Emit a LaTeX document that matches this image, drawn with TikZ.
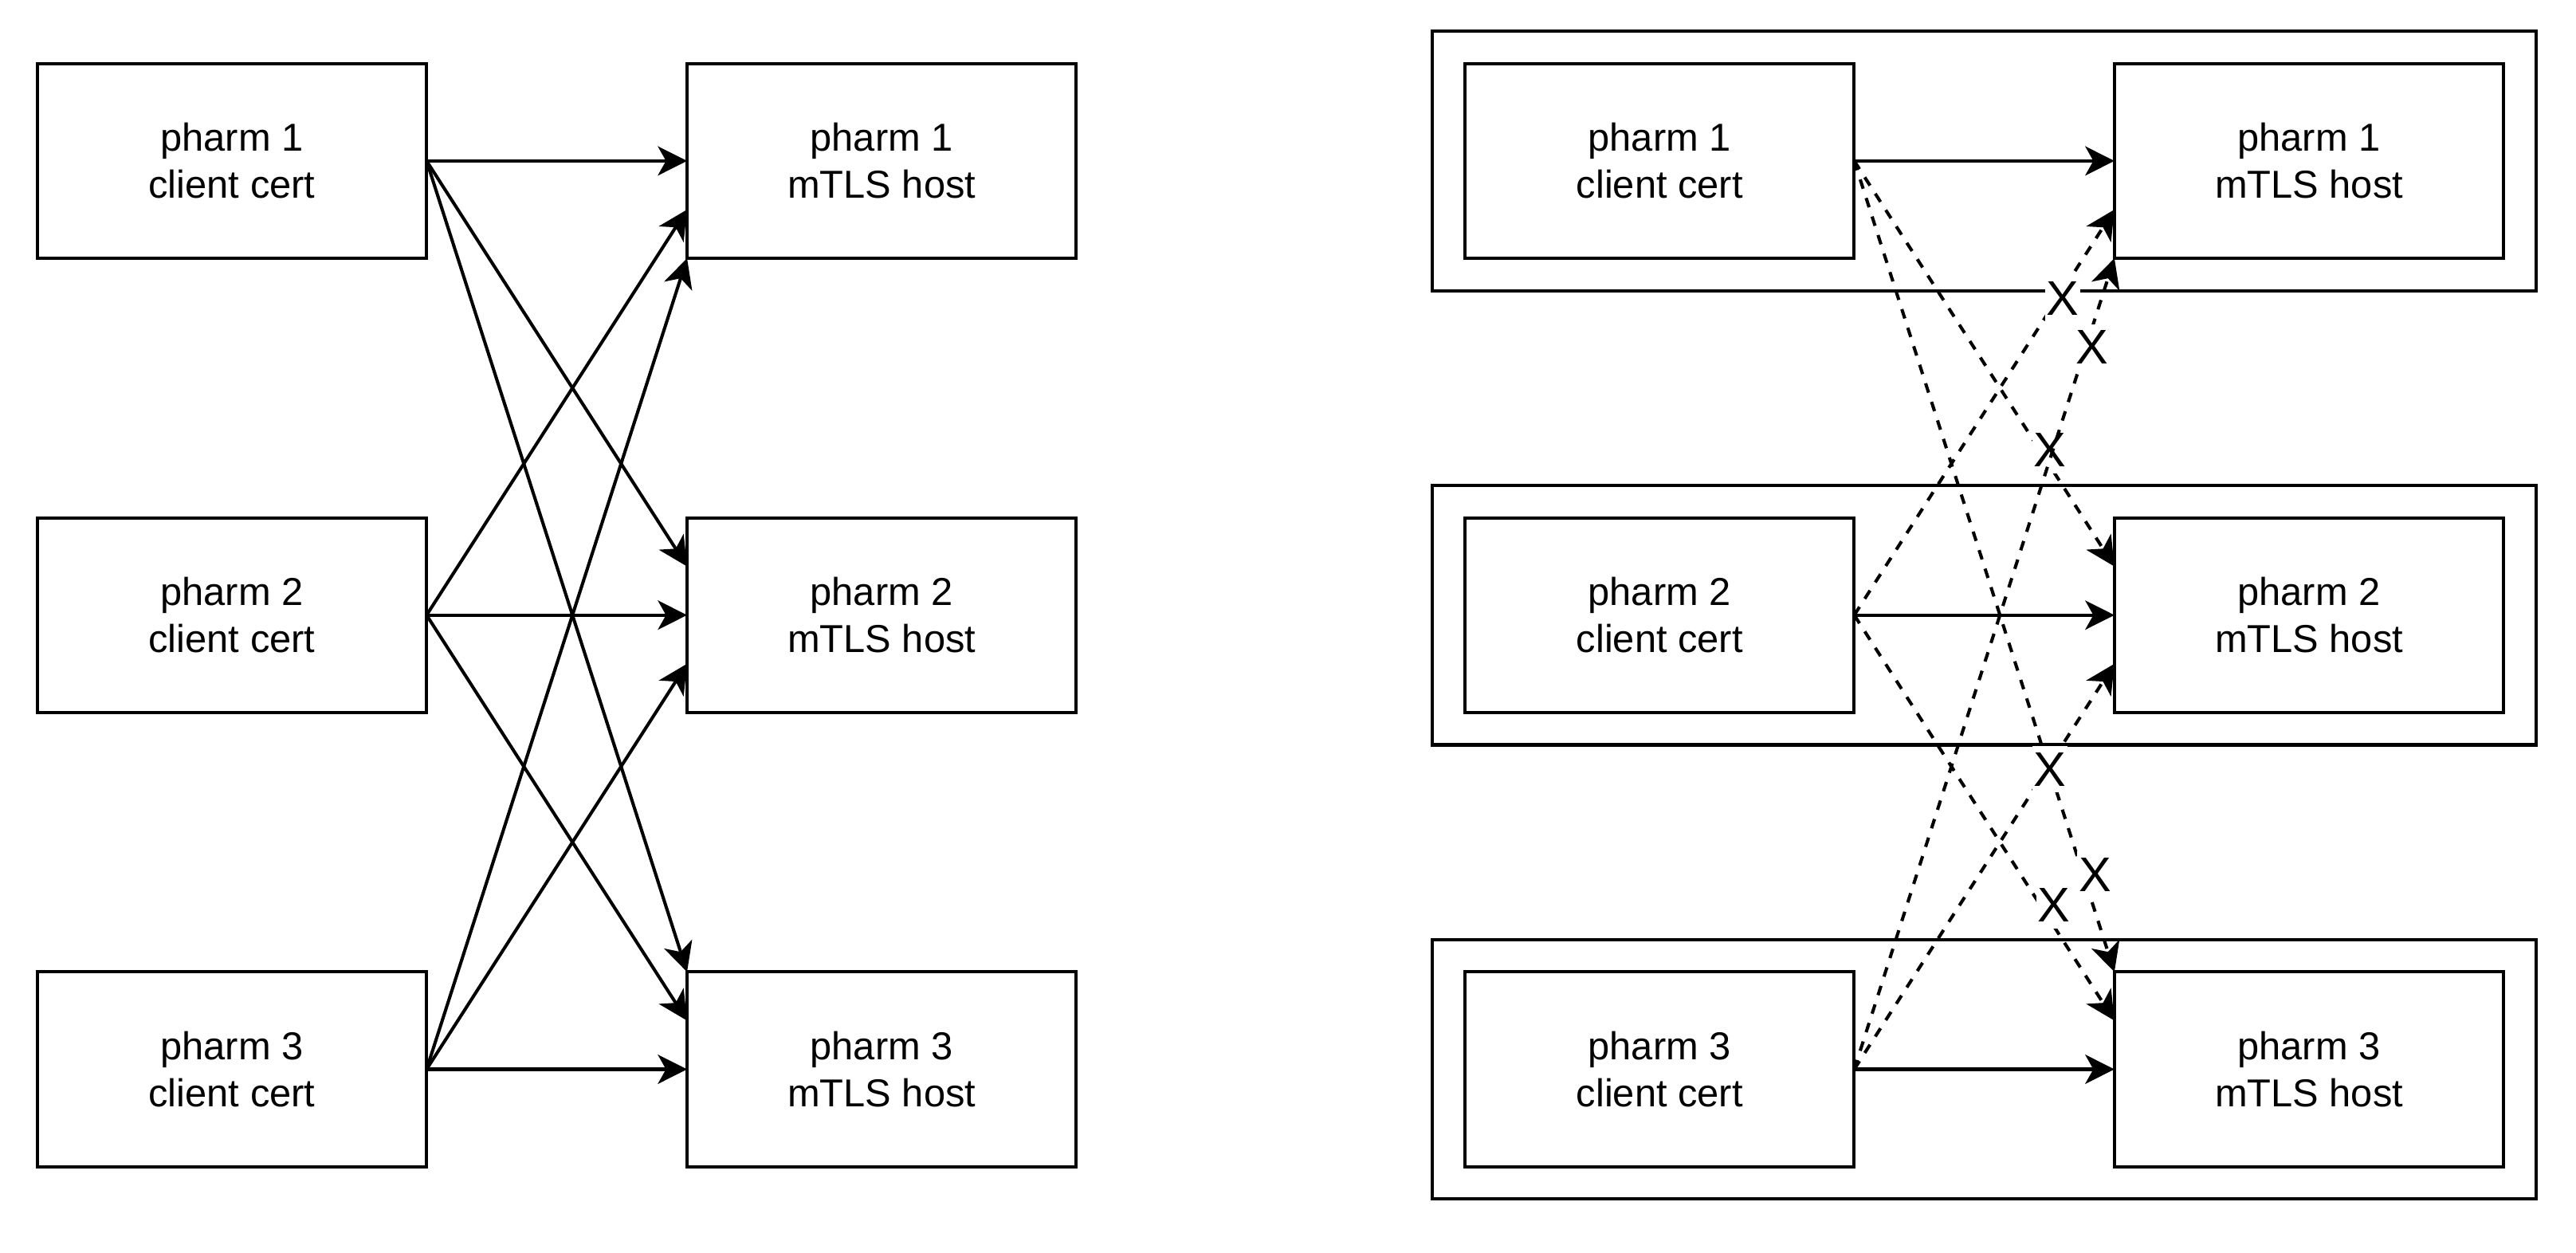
\documentclass[tikz,border=0pt]{standalone}
\usepackage{fontspec}
\setmainfont{Liberation Sans}
\usetikzlibrary{arrows.meta,positioning,fit}
\tikzset{
  pharmbox/.style={draw,line width=1pt,outer sep=0pt,minimum width=120pt,minimum height=60pt,
    align=center,inner sep=2pt,font=\fontsize{12}{14.5}\selectfont},
  zonebox/.style={draw,line width=1pt,outer sep=0pt,inner sep=10pt},
  certlink/.style={-{Stealth[length=9pt,width=9pt,inset=2.5pt]},line width=1pt},
  blockedlink/.style={certlink,dash pattern=on 3pt off 3pt},
  xmark/.style={fill=white,inner xsep=0.5pt,inner ysep=2pt,font=\fontsize{15}{18}\selectfont}
}

\begin{document}
\begin{tikzpicture}[x=1pt,y=-1pt]
  \useasboundingbox (0,0) rectangle (794.1,386.2);
  % open setup: every cert reaches every host
  \node[pharmbox] (cert1) at (71.5,49.6) {pharm 1\\client cert};
  \node[pharmbox] (cert2) at (71.5,189.6) {pharm 2\\client cert};
  \node[pharmbox] (cert3) at (71.5,329.6) {pharm 3\\client cert};
  \node[pharmbox] (host1) at (271.8,49.6) {pharm 1\\mTLS host};
  \node[pharmbox] (host2) at (271.8,189.6) {pharm 2\\mTLS host};
  \node[pharmbox] (host3) at (271.8,329.6) {pharm 3\\mTLS host};
  \draw[certlink] (cert1.east) -- (host1.west);
  \draw[certlink] (cert1.east) -- ([yshift=15pt]host2.west);
  \draw[certlink] (cert1.east) -- (host3.north west);
  \draw[certlink] (cert2.east) -- ([yshift=-15pt]host1.west);
  \draw[certlink] (cert2.east) -- (host2.west);
  \draw[certlink] (cert2.east) -- ([yshift=15pt]host3.west);
  \draw[certlink] (cert3.east) -- (host1.south west);
  \draw[certlink] (cert3.east) -- ([yshift=-15pt]host2.west);
  \draw[certlink] (cert3.east) -- (host3.west);
  % isolated setup: one zone per pharmacy
  \node[pharmbox] (pcert1) at (511.6,49.6) {pharm 1\\client cert};
  \node[pharmbox] (pcert2) at (511.6,189.6) {pharm 2\\client cert};
  \node[pharmbox] (pcert3) at (511.6,329.6) {pharm 3\\client cert};
  \node[pharmbox] (phost1) at (711.8,49.6) {pharm 1\\mTLS host};
  \node[pharmbox] (phost2) at (711.8,189.6) {pharm 2\\mTLS host};
  \node[pharmbox] (phost3) at (711.8,329.6) {pharm 3\\mTLS host};
  \node[zonebox,fit=(pcert1)(phost1)] (zone1) {};
  \node[zonebox,fit=(pcert2)(phost2)] (zone2) {};
  \node[zonebox,fit=(pcert3)(phost3)] (zone3) {};
  \draw[certlink] (pcert1.east) -- (phost1.west);
  \draw[certlink] (pcert2.east) -- (phost2.west);
  \draw[certlink] (pcert3.east) -- (phost3.west);
  \draw[blockedlink] (pcert1.east) -- node[xmark,pos=0.72,xshift=2.6pt,yshift=0.8pt]{X} ([yshift=15pt]phost2.west);
  \draw[blockedlink] (pcert1.east) -- node[xmark,pos=0.88,xshift=3.6pt]{X} (phost3.north west);
  \draw[blockedlink] (pcert2.east) -- node[xmark,pos=0.78,xshift=1.7pt]{X} ([yshift=-15pt]phost1.west);
  \draw[blockedlink] (pcert2.east) -- node[xmark,pos=0.71,xshift=4.6pt,yshift=-0.6pt]{X} ([yshift=15pt]phost3.west);
  \draw[blockedlink] (pcert3.east) -- node[xmark,pos=0.89,xshift=2pt]{X} (phost1.south west);
  \draw[blockedlink] (pcert3.east) -- node[xmark,pos=0.74,xshift=1pt]{X} ([yshift=-15pt]phost2.west);
\end{tikzpicture}
\end{document}
